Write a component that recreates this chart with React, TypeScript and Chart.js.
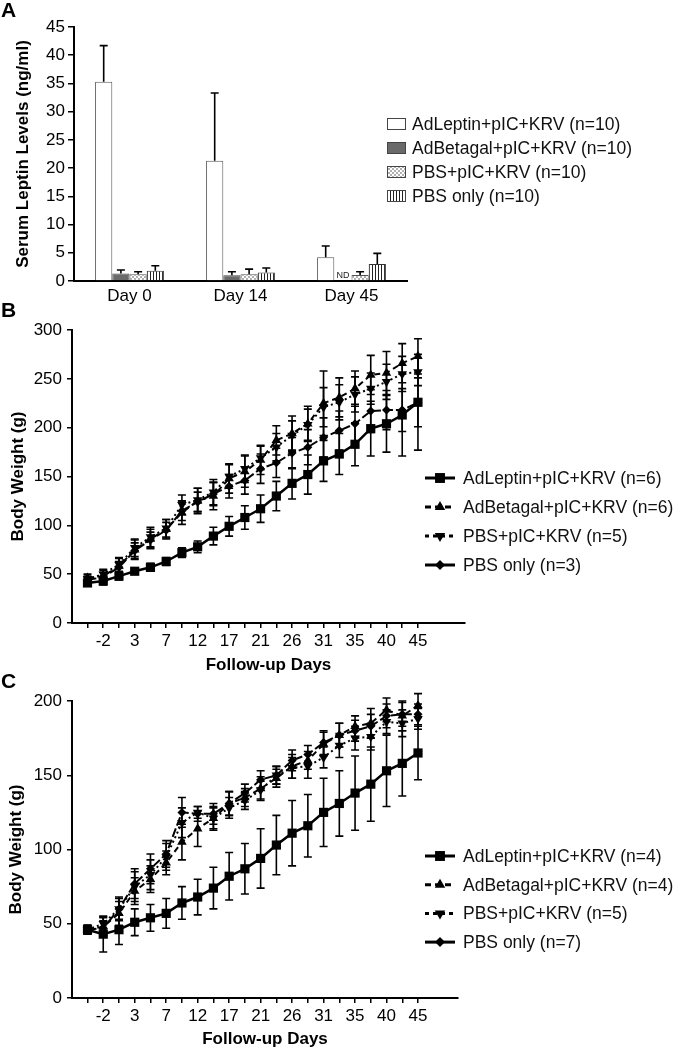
import React, { useEffect, useRef } from 'react';
import { Chart, registerables } from 'chart.js';

Chart.register(...registerables);

const FONT = '"Liberation Sans", Arial, Helvetica, sans-serif';

// ---------- Panel A: serum leptin ----------
const leptinDays = ['Day 0', 'Day 14', 'Day 45'];
const aNames = ['AdLeptin+pIC+KRV (n=10)', 'AdBetagal+pIC+KRV (n=10)', 'PBS+pIC+KRV (n=10)', 'PBS only (n=10)'];
const aAdLeptin = [35.3, 21.3, 4.2];
const aAdLeptinErr = [6.4, 12.0, 2.0];
const aAdBetagal = [1.35, 1.0, null];
const aAdBetagalErr = [0.6, 0.65, 0];
const aPbsPic = [1.2, 1.2, 1.05];
const aPbsPicErr = [0.45, 0.9, 0.6];
const aPbsOnly = [1.8, 1.5, 3.0];
const aPbsOnlyErr = [0.9, 0.8, 1.9];

// ---------- Follow-up day ticks (every other one labelled) ----------
const followUpDays = ['', '-2', '', '3', '', '7', '', '12', '', '17', '', '21', '', '26', '', '31', '', '35', '', '40', '', '45'];

// ---------- Panel B: body weight ----------
const bNames = ['AdLeptin+pIC+KRV (n=6)', 'AdBetagal+pIC+KRV (n=6)', 'PBS+pIC+KRV (n=5)', 'PBS only (n=3)'];
const bAdLeptin = [41, 43, 48, 53, 57, 63, 72, 78, 89, 99, 108, 117, 130, 143, 152, 166, 173, 183, 199, 204, 213, 226];
const bAdLeptinErr = [3, 4, 4, 3, 4, 4, 5, 6, 9, 10, 12, 14, 15, 16, 20, 21, 21, 22, 28, 29, 42, 49];
const bAdBetagal = [46, 48, 58, 75, 86, 96, 113, 125, 130, 148, 155, 167, 187, 194, 204, 225, 231, 240, 254, 256, 266, 273];
const bAdBetagalErr = [4, 6, 8, 10, 10, 10, 12, 13, 14, 15, 16, 15, 15, 18, 18, 33, 20, 18, 20, 22, 20, 18];
const bPbsPic = [45, 50, 60, 77, 88, 97, 121, 126, 134, 150, 158, 169, 180, 192, 203, 221, 226, 234, 240, 247, 255, 257];
const bPbsPicErr = [3, 5, 7, 9, 10, 9, 10, 12, 13, 12, 14, 12, 14, 15, 16, 20, 18, 18, 16, 18, 18, 14];
const bPbsOnly = [44, 47, 57, 74, 85, 95, 115, 124, 132, 140, 146, 158, 164, 174, 180, 190, 197, 204, 217, 218, 218, 226];
const bPbsOnlyErr = [3, 5, 6, 8, 8, 8, 10, 10, 12, 12, 14, 15, 15, 16, 18, 20, 20, 20, 22, 20, 22, 25];

// ---------- Panel C: body weight ----------
const cNames = ['AdLeptin+pIC+KRV (n=4)', 'AdBetagal+pIC+KRV (n=4)', 'PBS+pIC+KRV (n=5)', 'PBS only (n=7)'];
const cAdLeptin = [46, 43, 46, 51, 54, 57, 64, 68, 74, 82, 87, 94, 103, 111, 116, 125, 131, 138, 144, 153, 158, 165];
const cAdLeptinErr = [2, 12, 10, 9, 9, 10, 11, 12, 14, 16, 17, 20, 20, 22, 21, 23, 22, 25, 25, 24, 22, 18];
const cAdBetagal = [46, 48, 57, 72, 80, 91, 105, 114, 121, 131, 135, 141, 148, 156, 160, 171, 177, 183, 185, 194, 190, 197];
const cAdBetagalErr = [3, 6, 8, 9, 9, 8, 12, 12, 7, 8, 6, 8, 6, 8, 6, 8, 8, 7, 10, 8, 10, 8];
const cPbsPic = [46, 50, 60, 75, 83, 95, 118, 125, 121, 128, 133, 140, 150, 155, 156, 162, 170, 175, 176, 186, 185, 188];
const cPbsPicErr = [3, 5, 7, 10, 10, 9, 10, 4, 8, 7, 6, 6, 6, 7, 8, 7, 8, 8, 9, 8, 9, 7];
const cPbsOnly = [46, 47, 60, 77, 87, 97, 125, 124, 124, 131, 138, 147, 150, 160, 164, 172, 177, 180, 183, 190, 191, 191];
const cPbsOnlyErr = [3, 5, 8, 10, 10, 9, 10, 5, 7, 8, 6, 6, 6, 7, 6, 8, 8, 7, 8, 8, 8, 7];

// ---------- helpers ----------
const toXY = (vals: number[]) => vals.map((v, i) => ({ x: i, y: v }));

function checkerPattern() {
  const c = document.createElement('canvas');
  c.width = 4; c.height = 4;
  const g = c.getContext('2d')!;
  g.fillStyle = '#ffffff'; g.fillRect(0, 0, 4, 4);
  g.fillStyle = '#b0b0b0'; g.fillRect(0, 0, 2, 2); g.fillRect(2, 2, 2, 2);
  return g.createPattern(c, 'repeat');
}
function stripePattern() {
  const c = document.createElement('canvas');
  c.width = 3; c.height = 3;
  const g = c.getContext('2d')!;
  g.fillStyle = '#ffffff'; g.fillRect(0, 0, 3, 3);
  g.fillStyle = '#222222'; g.fillRect(0, 0, 1, 3);
  return g.createPattern(c, 'repeat');
}

function drawMarker(ctx: CanvasRenderingContext2D, style: string, rot: number, x: number, y: number, r: number) {
  ctx.beginPath();
  if (style === 'rect') {
    const s = r * Math.SQRT1_2;
    ctx.rect(x - s, y - s, 2 * s, 2 * s);
  } else if (style === 'triangle') {
    const d = rot === 180 ? -1 : 1;
    ctx.moveTo(x, y - d * r);
    ctx.lineTo(x + r * 0.866, y + d * r * 0.5);
    ctx.lineTo(x - r * 0.866, y + d * r * 0.5);
    ctx.closePath();
  } else {
    ctx.moveTo(x - r, y); ctx.lineTo(x, y - r); ctx.lineTo(x + r, y); ctx.lineTo(x, y + r);
    ctx.closePath();
  }
  ctx.fill();
}

const errorBarsPlugin = {
  id: 'errorBars',
  afterDatasetsDraw(chart: any, _args: any, opts: any) {
    const ctx = chart.ctx;
    const y = chart.scales.y;
    const upOnly = opts && opts.upOnly;
    const cap = (opts && opts.cap) || 4;
    ctx.save();
    ctx.strokeStyle = '#000';
    ctx.lineWidth = 1.6;
    ctx.setLineDash([]);
    chart.data.datasets.forEach((ds: any, di: number) => {
      if (!ds.errors) return;
      const meta = chart.getDatasetMeta(di);
      meta.data.forEach((el: any, i: number) => {
        const raw = ds.data[i];
        const v = raw == null ? null : typeof raw === 'object' ? raw.y : raw;
        const e = ds.errors[i];
        if (v == null || !e || !isFinite(el.x)) return;
        const x = el.x;
        const yt = y.getPixelForValue(v + e);
        const yb = upOnly ? y.getPixelForValue(v) : y.getPixelForValue(v - e);
        ctx.beginPath();
        ctx.moveTo(x, yb); ctx.lineTo(x, yt);
        ctx.moveTo(x - cap, yt); ctx.lineTo(x + cap, yt);
        if (!upOnly) { ctx.moveTo(x - cap, yb); ctx.lineTo(x + cap, yb); }
        ctx.stroke();
      });
    });
    ctx.restore();
  },
};

const customLegendPlugin = {
  id: 'customLegend',
  afterDraw(chart: any, _args: any, o: any) {
    const ctx = chart.ctx;
    ctx.save();
    ctx.font = `17.5px ${FONT}`;
    ctx.textBaseline = 'middle';
    chart.data.datasets.forEach((ds: any, i: number) => {
      const cy = o.y0 + i * o.dy;
      if (o.type === 'box') {
        ctx.fillStyle = ds.backgroundColor;
        ctx.fillRect(o.x, cy - 6, 19, 12);
        ctx.strokeStyle = '#444';
        ctx.lineWidth = 1;
        ctx.strokeRect(o.x + 0.5, cy - 5.5, 18, 11);
      } else {
        ctx.strokeStyle = '#000';
        ctx.lineWidth = 3;
        const dash = ds.legendDash || ds.borderDash || [];
        ctx.setLineDash(dash);
        ctx.beginPath();
        ctx.moveTo(o.x, cy); ctx.lineTo(o.x + 30, cy);
        ctx.stroke();
        ctx.setLineDash([]);
        ctx.fillStyle = '#000';
        drawMarker(ctx, ds.pointStyle, ds.pointRotation || 0, o.x + 15, cy, ds.pointRadius + 0.5);
      }
      ctx.fillStyle = '#111';
      ctx.fillText(ds.label, o.textX, cy + 1);
    });
    ctx.restore();
  },
};

const panelLabelPlugin = {
  id: 'panelLabel',
  afterDraw(chart: any, _args: any, o: any) {
    const ctx = chart.ctx;
    ctx.save();
    ctx.font = `bold 21px ${FONT}`;
    ctx.fillStyle = '#000';
    ctx.textBaseline = 'alphabetic';
    ctx.fillText(o.text, o.x, o.y);
    ctx.restore();
  },
};

const ndLabelPlugin = {
  id: 'ndLabel',
  afterDatasetsDraw(chart: any, _args: any, o: any) {
    if (!o || !o.text) return;
    const ctx = chart.ctx;
    let x = chart.getDatasetMeta(o.datasetIndex).data[o.index]?.x;
    if (!isFinite(x)) {
      const a = chart.getDatasetMeta(o.datasetIndex - 1).data[o.index].x;
      const b = chart.getDatasetMeta(o.datasetIndex + 1).data[o.index].x;
      x = (a + b) / 2;
    }
    const y = chart.scales.y.getPixelForValue(0) - 3;
    ctx.save();
    ctx.font = `9px ${FONT}`;
    ctx.fillStyle = '#222';
    ctx.textAlign = 'center';
    ctx.textBaseline = 'alphabetic';
    ctx.fillText(o.text, x, y);
    ctx.restore();
  },
};

function barConfig(): any {
  return {
    type: 'bar',
    data: {
      labels: leptinDays,
      datasets: [
        { label: aNames[0], data: aAdLeptin, errors: aAdLeptinErr, backgroundColor: '#ffffff', borderColor: '#555', borderWidth: 1 },
        { label: aNames[1], data: aAdBetagal, errors: aAdBetagalErr, backgroundColor: '#6a6a6a', borderColor: '#444', borderWidth: 1 },
        { label: aNames[2], data: aPbsPic, errors: aPbsPicErr, backgroundColor: checkerPattern(), borderColor: '#555', borderWidth: 1 },
        { label: aNames[3], data: aPbsOnly, errors: aPbsOnlyErr, backgroundColor: stripePattern(), borderColor: '#333', borderWidth: 1 },
      ],
    },
    options: {
      responsive: false,
      animation: false,
      layout: { padding: { top: 27, right: 269, left: 0, bottom: 0 } },
      datasets: { bar: { categoryPercentage: 0.62, barPercentage: 1, borderSkipped: 'bottom' } },
      plugins: {
        legend: { display: false },
        tooltip: { enabled: false },
        errorBars: { upOnly: true, cap: 4 },
        customLegend: { type: 'box', x: 387, textX: 412, y0: 124, dy: 24 },
        panelLabel: { text: 'A', x: 1, y: 17 },
        ndLabel: { text: 'ND', datasetIndex: 1, index: 2 },
      },
      scales: {
        x: {
          offset: true,
          grid: { display: true, drawOnChartArea: false, drawTicks: false },
          border: { display: true, color: '#000', width: 2 },
          ticks: { color: '#000', font: { family: FONT, size: 17 }, padding: 5 },
          afterFit: (s: any) => { s.height = 24; },
        },
        y: {
          min: 0, max: 45,
          ticks: { stepSize: 5, color: '#000', font: { family: FONT, size: 17 }, padding: 3 },
          grid: { drawOnChartArea: false, tickLength: 6, color: '#000', lineWidth: 1.5 },
          border: { display: true, color: '#000', width: 2 },
          title: { display: true, text: 'Serum Leptin Levels (ng/ml)', color: '#000', font: { family: FONT, size: 17, weight: 'bold' }, padding: { top: 13, bottom: 0 } },
          afterFit: (s: any) => { s.width = 74; },
        },
      },
    },
    plugins: [errorBarsPlugin, customLegendPlugin, panelLabelPlugin, ndLabelPlugin],
  };
}

function lineDatasets(names: string[], lep: number[], lepE: number[], bet: number[], betE: number[], pic: number[], picE: number[], only: number[], onlyE: number[]) {
  const common = { borderColor: '#000', backgroundColor: '#000', pointBackgroundColor: '#000', pointBorderColor: '#000', pointBorderWidth: 0, tension: 0, fill: false };
  return [
    { ...common, label: names[0], data: toXY(lep), errors: lepE, borderWidth: 2.5, borderDash: [], pointStyle: 'rect', pointRadius: 6.5, pointRotation: 0 },
    { ...common, label: names[1], data: toXY(bet), errors: betE, borderWidth: 2, borderDash: [6, 4], pointStyle: 'triangle', pointRadius: 5.5, pointRotation: 0 },
    { ...common, label: names[2], data: toXY(pic), errors: picE, borderWidth: 2, borderDash: [2, 3], pointStyle: 'triangle', pointRadius: 5.5, pointRotation: 180, legendDash: [4, 4] },
    { ...common, label: names[3], data: toXY(only), errors: onlyE, borderWidth: 2, borderDash: [9, 3], pointStyle: 'rectRot', pointRadius: 4.5, pointRotation: 0, legendDash: [] },
  ];
}

function lineConfig(p: any): any {
  return {
    type: 'line',
    data: { datasets: p.datasets },
    options: {
      responsive: false,
      animation: false,
      layout: { padding: { top: p.padTop, right: p.padRight, left: 0, bottom: 0 } },
      plugins: {
        legend: { display: false },
        tooltip: { enabled: false },
        errorBars: { upOnly: false, cap: 4 },
        customLegend: { type: 'line', x: 425, textX: 463, y0: p.legendY0, dy: p.legendDy },
        panelLabel: { text: p.letter, x: 1, y: p.letterY },
      },
      scales: {
        x: {
          type: 'linear',
          min: -0.985,
          max: p.xMax,
          bounds: 'data',
          afterBuildTicks: (s: any) => { s.ticks = followUpDays.map((_, i) => ({ value: i })); },
          ticks: {
            autoSkip: false, maxRotation: 0, color: '#000', font: { family: FONT, size: 17 }, padding: p.xTickPad,
            callback: (_v: any, i: number) => followUpDays[i] ?? '',
          },
          grid: { drawOnChartArea: false, tickLength: 5, color: '#000', lineWidth: 1.5 },
          border: { display: true, color: '#000', width: 2 },
          title: { display: true, text: 'Follow-up Days', color: '#000', font: { family: FONT, size: 17, weight: 'bold' }, padding: { top: 0, bottom: p.xTitlePad } },
          afterFit: (s: any) => { s.height = p.xAxisHeight; },
        },
        y: {
          min: 0, max: p.yMax,
          ticks: { stepSize: 50, color: '#000', font: { family: FONT, size: 17 }, padding: 5 },
          grid: { drawOnChartArea: false, tickLength: 5, color: '#000', lineWidth: 1.5 },
          border: { display: true, color: '#000', width: 2 },
          title: { display: true, text: 'Body Weight (g)', color: '#000', font: { family: FONT, size: 17, weight: 'bold' }, padding: { top: p.yTitlePad, bottom: 0 } },
          afterFit: (s: any) => { s.width = 72; },
        },
      },
    },
    plugins: [errorBarsPlugin, customLegendPlugin, panelLabelPlugin],
  };
}

function ChartCanvas({ top, height, makeConfig }: { top: number; height: number; makeConfig: () => any }) {
  const ref = useRef<HTMLCanvasElement>(null);
  useEffect(() => {
    const chart = new Chart(ref.current!, makeConfig());
    return () => chart.destroy();
  }, []);
  return (
    <div style={{ position: 'absolute', left: 0, top, width: 676, height }}>
      <canvas ref={ref} width={676} height={height} style={{ display: 'block' }} />
    </div>
  );
}

export default function App() {
  return (
    <div style={{ position: 'absolute', left: 0, top: 0, width: 676, height: 1050, background: '#fff' }}>
      <ChartCanvas top={0} height={305} makeConfig={barConfig} />
      <ChartCanvas
        top={300}
        height={380}
        makeConfig={() =>
          lineConfig({
            datasets: lineDatasets(bNames, bAdLeptin, bAdLeptinErr, bAdBetagal, bAdBetagalErr, bPbsPic, bPbsPicErr, bPbsOnly, bPbsOnlyErr),
            padTop: 30, padRight: 211, xMax: 23.99, yMax: 300, xAxisHeight: 57, xTickPad: 3, xTitlePad: 4, yTitlePad: 8,
            legendY0: 178, legendDy: 29, letter: 'B', letterY: 17,
          })
        }
      />
      <ChartCanvas
        top={660}
        height={390}
        makeConfig={() =>
          lineConfig({
            datasets: lineDatasets(cNames, cAdLeptin, cAdLeptinErr, cAdBetagal, cAdBetagalErr, cPbsPic, cPbsPicErr, cPbsOnly, cPbsOnlyErr),
            padTop: 41, padRight: 218, xMax: 23.54, yMax: 200, xAxisHeight: 52, xTickPad: 3, xTitlePad: 0, yTitlePad: 6,
            legendY0: 196, legendDy: 28.7, letter: 'C', letterY: 28,
          })
        }
      />
    </div>
  );
}
